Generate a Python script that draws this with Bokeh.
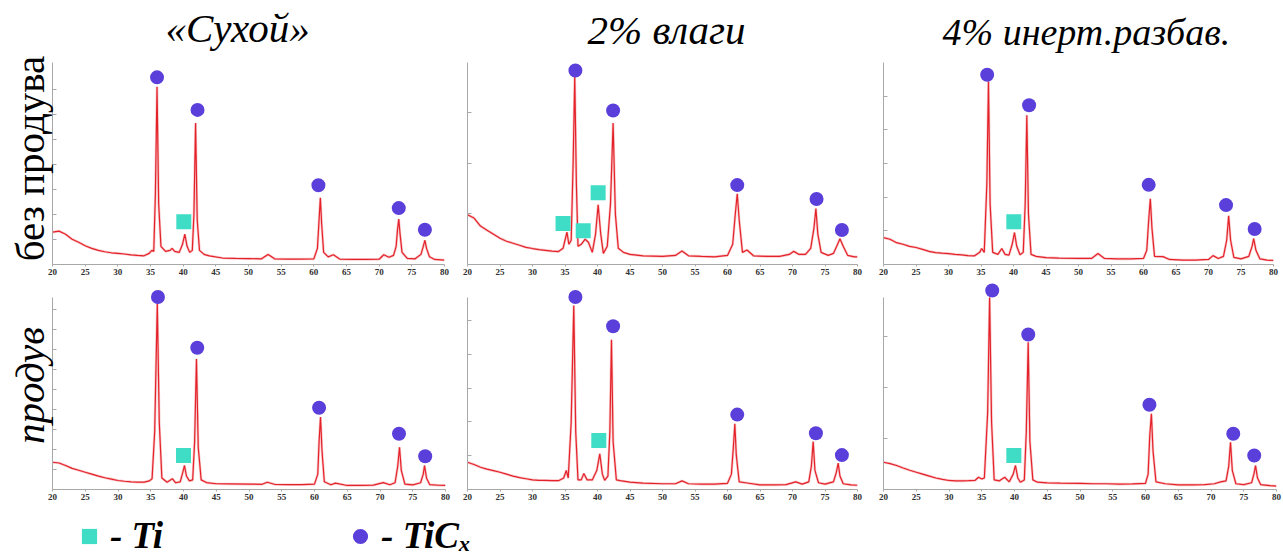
from bokeh.plotting import figure
from bokeh.models import Range1d, FixedTicker, Legend, LegendItem, CustomJSTickFormatter
from bokeh.layouts import column, row
from bokeh.embed import file_html
from bokeh.resources import INLINE

# ---------------- data: XRD patterns, 2θ (deg) vs intensity (a.u., 100 = axis top) ----------------
X_TICKS = [20, 25, 30, 35, 40, 45, 50, 55, 60, 65, 70, 75, 80]
COLUMN_TITLES = ["«Сухой»", "2% влаги", "4% инерт.разбав."]
ROW_TITLES = ["без продува", "продув"]
PHASES = ["- Ti", "- TiCₓ"]

# «Сухой», без продува
dry_x = [20, 21, 22, 23, 24, 25, 26, 27, 28, 29, 30, 31, 32, 33, 34, 34.8, 35.2, 35.5, 35.75, 36.0,
         36.25, 36.6, 37.3, 38.0, 38.3, 38.7, 39.4, 39.9, 40.25, 40.6, 41.0, 41.4, 41.65, 41.9, 42.15,
         42.5, 43.2, 44, 46, 48, 50, 52, 53, 54, 56, 58, 60, 60.55, 60.8, 61.0, 61.2, 61.5, 62.2, 63.0,
         64, 66, 68, 70, 70.7, 71.5, 72.2, 72.6, 72.8, 73.0, 73.2, 73.5, 74.3, 75.5, 76.4, 76.75, 77.0,
         77.25, 77.7, 78.5, 80]
dry_y = [16, 16.5, 15, 12.5, 11, 9.3, 8, 7, 6.3, 5.8, 5.5, 5.2, 4.8, 4.5, 4.3, 5.5, 7, 6.5, 35, 88,
         30, 9, 6.5, 7, 8, 6.5, 6, 10, 15, 9, 6, 7, 25, 70, 22,
         7, 5, 4.3, 3.2, 3.0, 2.9, 2.8, 5, 2.8, 2.7, 2.7, 2.8, 8, 22, 33, 20, 6, 3.8, 4.8,
         2.6, 2.5, 2.5, 2.6, 4.8, 3.6, 4.5, 9, 17, 22.5, 15, 6, 3.0, 2.8, 5, 9, 12,
         8, 3.8, 2.5, 2.2]
dry_tic_x = [36.0, 42.2, 60.7, 73.0, 77.0]
dry_tic_y = [92.6, 76.5, 39.2, 27.9, 17.2]
dry_ti_x = [40.1]
dry_ti_y = [21.1]
dry_yticks = [12.4, 24.8, 37.2, 49.6, 62.0, 74.4, 86.8]

# 2% влаги, без продува
wet_x = [20, 21, 22, 23, 24, 25, 26, 27, 28, 29, 30, 31, 32, 33, 34, 34.7, 35.0, 35.3, 35.6, 35.95,
         36.25, 36.5, 36.75, 37.0, 37.5, 38.1, 38.6, 39.2, 39.7, 40.1, 40.5, 40.9, 41.5, 42.0, 42.4,
         42.75, 43.2, 44, 45, 47, 50, 52, 53, 54, 56, 58, 60, 60.8, 61.2, 61.5, 61.8, 62.3, 63, 64,
         66, 68, 69.5, 70.2, 71, 72, 72.8, 73.3, 73.6, 73.9, 74.4, 75.5, 76.3, 76.8, 77.3, 77.8, 78.5,
         79.5, 80]
wet_y = [24.6, 23, 19, 17, 15, 13, 11.5, 10.5, 9.5, 8.5, 7.9, 7.4, 7, 6.6, 6.4, 8, 12, 16, 10, 12,
         50, 93, 40, 9, 10, 12.5, 11, 6, 15, 29.6, 15, 5.5, 9, 30, 70,
         25, 8, 6, 5, 4.3, 4, 4.5, 6.7, 4.3, 4, 3.8, 4.5, 10, 25, 35, 22, 6, 7.2, 4.3,
         4, 4, 5, 6.5, 5, 5, 8, 18, 27.7, 15, 6, 4.5, 5.5, 9, 12.7, 9, 4.5,
         3.8, 3.8]
wet_tic_x = [36.6, 42.4, 61.5, 73.7, 77.6]
wet_tic_y = [96.0, 76.2, 39.3, 32.4, 17.1]
wet_ti_x = [34.7, 37.8, 40.1]
wet_ti_y = [20.3, 16.7, 35.5]
wet_yticks = [25, 50, 75]

# 4% инерт. разбав., без продува
inert_x = [20, 21, 22, 23, 24, 25, 26, 27, 28, 29, 30, 31, 32, 33, 34, 34.8, 35.1, 35.5, 35.9, 36.15,
           36.4, 36.8, 37.6, 38.2, 38.7, 39.3, 39.8, 40.15, 40.5, 41.0, 41.5, 41.8, 42.05, 42.3, 42.7,
           43.5, 45, 47, 50, 52, 53, 54, 56, 58, 60, 60.5, 60.8, 61.05, 61.3, 61.7, 63, 64, 66, 68,
           70, 70.7, 71.5, 72.3, 72.8, 73.1, 73.4, 73.9, 75, 76.2, 76.7, 76.95, 77.3, 77.9, 79, 80]
inert_y = [13.3, 12.5, 10.8, 10, 9, 8.4, 7.5, 6.5, 5.9, 5.6, 5.4, 5.0, 4.8, 4.4, 4.3, 6, 7.9, 6, 40, 90.6,
           30, 6, 5, 7.9, 5, 4.6, 10, 15.8, 9, 4.8, 6, 30, 73.9, 25, 5,
           4, 3.4, 3.2, 3, 3, 5.4, 3, 2.8, 2.8, 3, 7, 22, 32.5, 18, 4, 3.9, 2.5, 2.2, 2.2,
           2.5, 4.4, 3, 4, 12, 24.1, 12, 3.5, 2.8, 4, 9, 12.8, 7, 2.8, 2.2, 2]
inert_tic_x = [35.95, 42.4, 60.8, 72.7, 77.1]
inert_tic_y = [93.9, 78.8, 39.4, 29.4, 17.6]
inert_ti_x = [40.05]
inert_ti_y = [21.2]
inert_yticks = [16.7, 33.3, 50.0, 66.7, 83.3]

# «Сухой», продув
dry_b_x = [20, 21, 22, 23, 24, 25, 26, 27, 28, 29, 30, 31, 32, 33, 34, 34.8, 35.2, 35.6, 36.0, 36.3,
           36.7, 37.5, 38.3, 38.8, 39.5, 39.9, 40.15, 40.45, 40.9, 41.4, 41.7, 41.98, 42.25, 42.7, 43.5,
           45, 47, 50, 52, 52.8, 54, 56, 58, 60, 60.5, 60.7, 60.92, 61.15, 61.5, 62.5, 63.2, 65, 67,
           69, 70.5, 71.5, 72.3, 72.7, 72.98, 73.25, 73.8, 75, 76.2, 76.6, 76.8, 77.1, 77.6, 79, 80]
dry_b_y = [14.2, 13.8, 12.5, 11, 10, 9, 8, 7, 6.1, 5.4, 4.7, 4.3, 4, 3.8, 3.8, 4.5, 5.6, 30, 97, 35,
           6, 3.8, 5.6, 3.5, 4, 9, 12.5, 7, 4.5, 5, 25, 68, 22, 5, 3.6,
           3, 2.9, 2.8, 2.7, 3.8, 2.6, 2.5, 2.5, 2.8, 8, 25, 37.7, 20, 4, 2.5, 3.3, 2.1, 2.1,
           2.3, 3.6, 2.5, 3.5, 12, 22, 10, 2.8, 2.4, 3.5, 8, 12.5, 6, 2.5, 2.2, 2.1]
dry_b_tic_x = [36.1, 42.1, 60.7, 72.9, 76.9]
dry_b_tic_y = [100.2, 73.8, 42.6, 29.0, 17.3]
dry_b_ti_x = [40.0]
dry_b_ti_y = [17.7]
dry_b_yticks = [10.4, 20.8, 31.2, 41.6, 52.0, 62.4, 72.8, 83.2, 93.6]

# 2% влаги, продув
wet_b_x = [20, 21, 22, 23, 24, 25, 26, 27, 28, 29, 30, 31, 32, 33, 34, 34.8, 35.2, 35.5, 35.95, 36.35,
           36.65, 37.0, 37.5, 37.9, 38.4, 39.2, 39.9, 40.35, 40.75, 41.1, 41.6, 41.9, 42.15, 42.4, 42.9,
           43.5, 45, 47, 50, 52, 53, 54, 56, 58, 60, 60.6, 60.9, 61.13, 61.35, 61.8, 63, 65, 67, 69,
           70.5, 71.5, 72.5, 72.9, 73.18, 73.45, 74, 75, 76.3, 76.75, 77.03, 77.3, 77.8, 79, 80]
wet_b_y = [14.2, 13, 11.6, 10.6, 9.8, 9, 8, 7, 6.2, 5.6, 5, 4.8, 4.7, 4.6, 4.6, 6, 9.9, 6, 35, 95.8,
           30, 5, 5, 8.3, 5, 5, 10, 18.6, 8, 4.8, 7, 30, 78, 25, 5,
           4.6, 3.8, 3.3, 3, 3, 4.5, 3, 2.8, 2.8, 3.2, 8, 22, 34.2, 18, 4, 3.4, 2.4, 2.4, 2.5,
           4, 2.8, 4, 12, 25, 10, 3.5, 2.8, 4, 9, 13.7, 7, 3, 2.4, 2.2]
wet_b_tic_x = [36.6, 42.4, 61.5, 73.6, 77.6]
wet_b_tic_y = [100.2, 85.0, 39.0, 29.3, 17.9]
wet_b_ti_x = [40.2]
wet_b_ti_y = [25.5]
wet_b_yticks = [17.6, 35.2, 52.8, 70.4, 88.0]

# 4% инерт. разбав., продув
inert_b_x = [20, 21, 22, 23, 24, 25, 26, 27, 28, 29, 30, 31, 32, 33, 34, 34.5, 35.0, 35.4, 35.9, 36.2,
             36.5, 36.9, 37.7, 38.5, 39.2, 39.8, 40.15, 40.5, 40.9, 41.5, 41.8, 42.09, 42.35, 42.8, 43.5,
             45, 47, 50, 52, 54, 56, 58, 60, 60.4, 60.65, 60.9, 61.15, 61.6, 63, 65, 67, 69, 70.5,
             71.5, 72.3, 72.7, 72.98, 73.25, 73.8, 75, 76.2, 76.55, 76.8, 77.1, 77.6, 79, 80]
inert_b_y = [14.2, 13.5, 12.5, 11.2, 10, 9, 8, 7, 6, 5.3, 4.7, 4.5, 4.5, 4.6, 4.8, 6.4, 5.5, 6, 40, 100,
             35, 5, 4.5, 6.4, 4, 8, 12.5, 6, 3.8, 5, 30, 76.7, 25, 5, 3.8,
             3.5, 3.3, 3.2, 3, 3, 2.8, 2.9, 3.2, 8, 28, 39.4, 20, 4, 3, 2.4, 2.4, 2.5, 3,
             4, 4.5, 12, 24.6, 10, 3, 2.5, 3.5, 8, 12.5, 6, 2.5, 2, 1.8]
inert_b_tic_x = [36.6, 42.1, 60.6, 73.4, 76.6]
inert_b_tic_y = [103.6, 80.7, 44.1, 29.0, 17.7]
inert_b_ti_x = [39.9]
inert_b_ti_y = [17.7]
inert_b_yticks = [26.5, 53.0, 79.5]

# ---------------- styling ----------------
LINE_COLOR = "#e4222a"
TIC_COLOR = "#5b3fda"
TI_COLOR = "#3fdcc6"
AXIS_COLOR = "#a8a8a8"
SERIF = "Liberation Serif"


def make_panel(xs, ys, tic_x, tic_y, ti_x, ti_y, yticks, width, height, left, right, top, bottom,
               y_end, title=None, title_offset=0, title_standoff=4, title_size="41px",
               row_label=None, label_style="normal"):
    p = figure(width=width, height=height, x_range=Range1d(20, 80), y_range=Range1d(0, y_end),
               output_backend="svg", toolbar_location=None,
               min_border_left=left, min_border_right=right,
               min_border_top=top, min_border_bottom=bottom)
    p.outline_line_color = None
    p.grid.visible = False
    p.background_fill_color = "white"
    p.border_fill_color = "white"

    # x axis: 2θ ticks with small bold serif labels
    xa = p.xaxis[0]
    xa.ticker = FixedTicker(ticks=X_TICKS)
    xa.axis_line_color = AXIS_COLOR
    xa.major_tick_line_color = AXIS_COLOR
    xa.major_tick_out = 2
    xa.major_tick_in = 0
    xa.minor_tick_line_color = None
    xa.major_label_standoff = 2
    xa.major_label_text_font = SERIF
    xa.major_label_text_font_style = "bold"
    xa.major_label_text_font_size = "9px"
    xa.major_label_text_color = "#303030"

    # y axis: intensity, only short inward ticks
    ya = p.yaxis[0]
    ya.bounds = (0, 100)
    ya.ticker = FixedTicker(ticks=yticks)
    ya.formatter = CustomJSTickFormatter(code="return ''")
    ya.axis_line_color = AXIS_COLOR
    ya.major_tick_line_color = AXIS_COLOR
    ya.major_tick_in = 4
    ya.major_tick_out = 0
    ya.minor_tick_line_color = None
    ya.major_label_standoff = 0
    ya.major_label_text_font_size = "1px"
    if row_label:
        ya.axis_label = row_label
        ya.axis_label_text_font = SERIF
        ya.axis_label_text_font_size = "41px"
        ya.axis_label_text_font_style = label_style
        ya.axis_label_text_color = "black"
        ya.axis_label_standoff = 0

    if title:
        p.title.text = title
        p.title.text_font = SERIF
        p.title.text_font_style = "italic"
        p.title.text_font_size = title_size
        p.title.text_color = "black"
        p.title.align = "left"
        p.title.offset = title_offset
        p.title.standoff = title_standoff

    p.line(xs, ys, line_color=LINE_COLOR, line_width=2.6, line_alpha=0.25)
    p.line(xs, ys, line_color=LINE_COLOR, line_width=1.2)
    p.scatter(tic_x, tic_y, marker="circle", size=14, fill_color=TIC_COLOR, line_color=None)
    p.scatter(ti_x, ti_y, marker="square", size=15, fill_color=TI_COLOR, line_color=None)
    return p


TOP_H, BOT_H = 280, 229
f1 = make_panel(dry_x, dry_y, dry_tic_x, dry_tic_y, dry_ti_x, dry_ti_y, dry_yticks,
                460, TOP_H, 52, 16, 50, 16, 104.9, title=COLUMN_TITLES[0], title_offset=113,
                title_standoff=4, row_label=ROW_TITLES[0], label_style="normal")
f2 = make_panel(wet_x, wet_y, wet_tic_x, wet_tic_y, wet_ti_x, wet_ti_y, wet_yticks,
                413, TOP_H, 7, 16, 50, 16, 104.9, title=COLUMN_TITLES[1], title_offset=120,
                title_standoff=0)
f3 = make_panel(inert_x, inert_y, inert_tic_x, inert_tic_y, inert_ti_x, inert_ti_y, inert_yticks,
                410, TOP_H, 10, 10, 50, 16, 104.9, title=COLUMN_TITLES[2], title_offset=59,
                title_standoff=0, title_size="38px")

f4 = make_panel(dry_b_x, dry_b_y, dry_b_tic_x, dry_b_tic_y, dry_b_ti_x, dry_b_ti_y, dry_b_yticks,
                460, BOT_H, 52, 15, 1, 20, 108.3, row_label=ROW_TITLES[1], label_style="italic")
f5 = make_panel(wet_b_x, wet_b_y, wet_b_tic_x, wet_b_tic_y, wet_b_ti_x, wet_b_ti_y, wet_b_yticks,
                413, BOT_H, 7, 16, 1, 20, 108.3)
f6 = make_panel(inert_b_x, inert_b_y, inert_b_tic_x, inert_b_tic_y, inert_b_ti_x, inert_b_ti_y,
                inert_b_yticks, 410, BOT_H, 10, 7, 1, 20, 108.3)

# phase legend strip (the sample points sit outside the visible range; only the legend shows)
leg = figure(width=1283, height=48, x_range=Range1d(0, 1), y_range=Range1d(0, 1),
             x_axis_type=None, y_axis_type=None, output_backend="svg", toolbar_location=None,
             min_border=0)
leg.outline_line_color = None
leg.grid.visible = False
r_ti = leg.scatter([-5], [-5], marker="square", size=15, fill_color=TI_COLOR, line_color=None)
r_tic = leg.scatter([-5], [-5], marker="circle", size=15, fill_color=TIC_COLOR, line_color=None)
legend = Legend(items=[LegendItem(label=PHASES[0], renderers=[r_ti]),
                       LegendItem(label=PHASES[1], renderers=[r_tic])],
                orientation="horizontal", location=(70, 0), padding=0, margin=0, spacing=178,
                glyph_width=38, glyph_height=38, label_standoff=2,
                label_text_font=SERIF, label_text_font_style="bold italic",
                label_text_font_size="37px", label_text_color="black",
                border_line_color=None, background_fill_alpha=0)
leg.add_layout(legend, "center")

layout = column(row(f1, f2, f3), row(f4, f5, f6), leg)

with open("out.html", "w") as fh:
    fh.write(file_html(layout, INLINE))
